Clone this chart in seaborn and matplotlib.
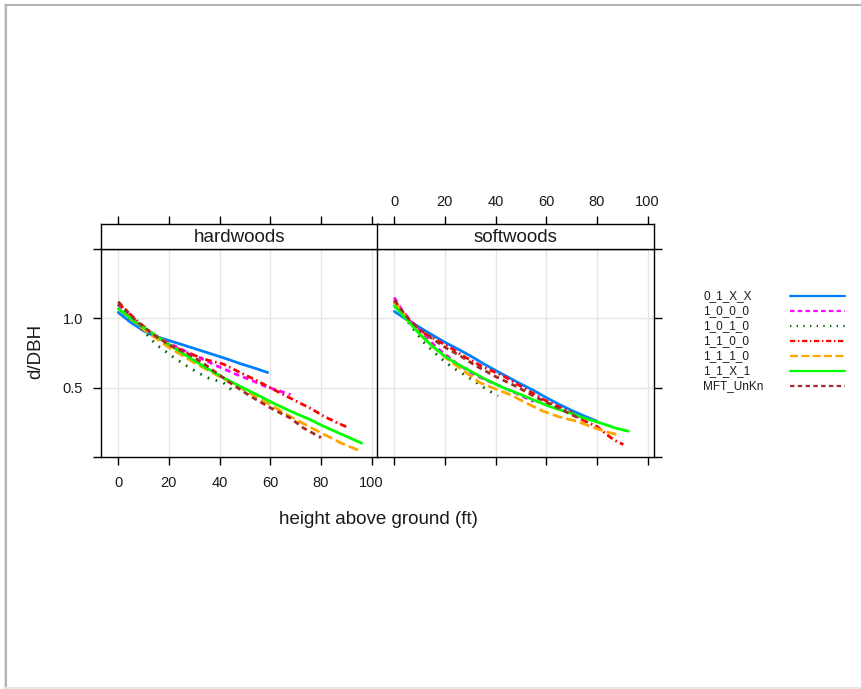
import numpy as np
import pandas as pd
import matplotlib
matplotlib.use("Agg")
import matplotlib.pyplot as plt
import seaborn as sns
from matplotlib.lines import Line2D

# ---------------- data ----------------
groups = ["0_1_X_X", "1_0_0_0", "1_0_1_0", "1_1_0_0", "1_1_1_0", "1_1_X_1", "MFT_UnKn"]
colors = ["#0080ff", "#ff00ff", "#006400", "#ff0000", "#ffa500", "#00ff00", "#a52a2a"]
panels = ["hardwoods", "softwoods"]
x_ticks = [0, 20, 40, 60, 80, 100]
y_ticks = [0.0, 0.5, 1.0, 1.5]
y_tick_labels = ["", "0.5", "1.0", ""]

# hardwoods
hw_x_01XX = [0, 5, 10, 14, 20, 27, 33, 39, 44, 48, 54, 59]
hw_y_01XX = [1.043, 0.97, 0.91, 0.874, 0.84, 0.80, 0.765, 0.73, 0.70, 0.674, 0.64, 0.609]
hw_x_1000 = [0, 5, 10, 14, 20, 28, 34, 39, 46, 53, 58, 63, 68]
hw_y_1000 = [1.10, 1.0, 0.93, 0.886, 0.82, 0.75, 0.70, 0.657, 0.60, 0.55, 0.51, 0.48, 0.45]
hw_x_1010 = [0, 4, 8.6, 15, 22, 28, 35, 41.5, 45]
hw_y_1010 = [1.10, 1.01, 0.935, 0.81, 0.717, 0.645, 0.573, 0.536, 0.48]
hw_x_1100 = [0, 7, 14, 20, 27, 35, 41.5, 48, 55, 62, 70.5, 76, 81, 86, 91]
hw_y_1100 = [1.11, 0.99, 0.88, 0.81, 0.754, 0.70, 0.67, 0.61, 0.548, 0.48, 0.40, 0.35, 0.295, 0.25, 0.21]
hw_x_1110 = [0, 10, 20, 30, 40, 50, 56, 62, 70, 81, 88, 96]
hw_y_1110 = [1.07, 0.92, 0.79, 0.68, 0.58, 0.48, 0.42, 0.355, 0.27, 0.165, 0.10, 0.04]
hw_x_11X1 = [0, 7, 14, 21, 28, 35, 41.5, 48, 54.7, 61, 68, 75, 81, 88, 96]
hw_y_11X1 = [1.07, 0.97, 0.886, 0.80, 0.717, 0.64, 0.572, 0.51, 0.45, 0.39, 0.33, 0.275, 0.222, 0.165, 0.10]
hw_x_MFT = [0, 7, 14, 21, 28, 34, 45, 52, 60, 68, 73, 80]
hw_y_MFT = [1.12, 0.983, 0.88, 0.80, 0.74, 0.67, 0.524, 0.44, 0.355, 0.28, 0.21, 0.14]

# softwoods
sw_x_01XX = [0, 5, 10, 15, 20.7, 25, 30, 35, 40.4, 45, 49.6, 55, 60, 65, 70.7, 75, 80]
sw_y_01XX = [1.05, 0.99, 0.935, 0.88, 0.82, 0.78, 0.73, 0.675, 0.62, 0.575, 0.53, 0.48, 0.428, 0.38, 0.33, 0.295, 0.258]
sw_x_1000 = [0, 3, 7, 12, 18, 25, 32, 38, 42, 48, 55]
sw_y_1000 = [1.15, 1.06, 0.97, 0.87, 0.77, 0.67, 0.59, 0.54, 0.51, 0.46, 0.40]
sw_x_1010 = [0, 4, 7.5, 12, 18, 23, 28.5, 33, 36.4, 41]
sw_y_1010 = [1.12, 1.01, 0.923, 0.82, 0.717, 0.645, 0.585, 0.53, 0.488, 0.44]
sw_x_1100 = [0, 5, 10, 16, 22, 28, 35, 43, 50, 58.8, 64, 69, 75, 80, 83.8, 87, 90.4]
sw_y_1100 = [1.13, 1.0, 0.91, 0.85, 0.79, 0.72, 0.65, 0.585, 0.51, 0.415, 0.37, 0.33, 0.26, 0.22, 0.162, 0.12, 0.09]
sw_x_1110 = [0, 5, 10, 15, 20, 26, 33.8, 40, 45.7, 52, 58.8, 65, 72, 79, 84, 87.8]
sw_y_1110 = [1.12, 1.0, 0.89, 0.80, 0.72, 0.64, 0.536, 0.49, 0.45, 0.39, 0.33, 0.29, 0.258, 0.21, 0.18, 0.162]
sw_x_11X1 = [0, 5, 10, 15, 20.7, 25, 30, 36, 43, 50, 56, 62, 69, 75, 82.5, 87, 92.4]
sw_y_11X1 = [1.09, 0.99, 0.886, 0.80, 0.717, 0.67, 0.62, 0.56, 0.50, 0.45, 0.403, 0.36, 0.319, 0.28, 0.239, 0.21, 0.186]
sw_x_MFT = [0, 5, 10, 16, 21, 26, 32, 40, 48, 56, 63, 70, 74]
sw_y_MFT = [1.13, 1.01, 0.92, 0.84, 0.78, 0.73, 0.66, 0.58, 0.51, 0.43, 0.37, 0.305, 0.27]

hw_series = [(hw_x_01XX, hw_y_01XX), (hw_x_1000, hw_y_1000), (hw_x_1010, hw_y_1010),
             (hw_x_1100, hw_y_1100), (hw_x_1110, hw_y_1110), (hw_x_11X1, hw_y_11X1),
             (hw_x_MFT, hw_y_MFT)]
sw_series = [(sw_x_01XX, sw_y_01XX), (sw_x_1000, sw_y_1000), (sw_x_1010, sw_y_1010),
             (sw_x_1100, sw_y_1100), (sw_x_1110, sw_y_1110), (sw_x_11X1, sw_y_11X1),
             (sw_x_MFT, sw_y_MFT)]

rows = []
for panel, series in zip(panels, [hw_series, sw_series]):
    for g, (xs, ys) in zip(groups, series):
        for xv, yv in zip(xs, ys):
            rows.append({"panel": panel, "group": g, "height": xv, "ratio": yv})
df = pd.DataFrame(rows)

# ---------------- styles ----------------
palette = dict(zip(groups, colors))
dash_list = ["", (2.0, 1.5), (0.6, 2.4), (2.4, 1.2, 0.6, 1.2), (3.6, 1.5), "", (2.0, 1.5)]
dashes = dict(zip(groups, dash_list))

sns.set_theme(style="white")
plt.rcParams["font.family"] = ["Liberation Sans", "DejaVu Sans"]
plt.rcParams["axes.linewidth"] = 1.0

W, H = 861, 689
fig = plt.figure(figsize=(W / 100, H / 100), dpi=100)

def fx(px):
    return px / W

def fy(py):
    return 1 - py / H

xlim = (-6.8, 102.3)
ylim = (0.0, 1.5)
panel_left = [101, 377]
panel_w = 276.5
top_y, bot_y = 249, 457
strip_top = 224
TXT = "#1a1a1a"
LW = 2.0

for i, panel in enumerate(panels):
    ax = fig.add_axes([fx(panel_left[i]), fy(bot_y), panel_w / W, (bot_y - top_y) / H])
    ax.set_facecolor("white")
    for xv in x_ticks:
        ax.axvline(xv, color="#e6e6e6", lw=1, zorder=0)
    for yv in [0.5, 1.0]:
        ax.axhline(yv, color="#e6e6e6", lw=1, zorder=0)
    sns.lineplot(data=df[df["panel"] == panel], x="height", y="ratio",
                 hue="group", style="group", palette=palette, dashes=dashes,
                 hue_order=groups, style_order=groups,
                 estimator=None, sort=False, legend=False, lw=LW, ax=ax, zorder=3)
    ax.set_xlim(*xlim)
    ax.set_ylim(*ylim)
    ax.set_xlabel("")
    ax.set_ylabel("")
    ax.set_xticks(x_ticks)
    ax.set_yticks(y_ticks)
    for s in ax.spines.values():
        s.set_color("black")
        s.set_linewidth(1.0)
    ax.tick_params(direction="out", length=6, width=1.0, color="black",
                   labelsize=10.5, labelcolor=TXT, pad=7.5)
    if i == 0:
        ax.set_xticklabels([str(v) for v in x_ticks])
        ax.set_yticklabels(y_tick_labels)
        ax.tick_params(axis="y", left=True, right=False, labelleft=True, pad=7)
        ax.tick_params(axis="x", bottom=True, labelbottom=True)
    else:
        ax.set_xticklabels([])
        ax.set_yticklabels([])
        ax.tick_params(axis="y", left=False, right=True, labelleft=False, labelright=False)
        ax.tick_params(axis="x", bottom=True, labelbottom=False)

    # strip
    st = fig.add_axes([fx(panel_left[i]), fy(top_y), panel_w / W, (top_y - strip_top) / H])
    st.set_facecolor("white")
    st.set_xlim(*xlim)
    st.set_ylim(0, 1)
    st.set_yticks([])
    st.set_xticks(x_ticks)
    for s in st.spines.values():
        s.set_color("black")
        s.set_linewidth(1.0)
    st.tick_params(axis="x", direction="out", length=6, width=1.0, color="black",
                   bottom=False, labelbottom=False, top=True,
                   labeltop=(i == 1), labelsize=10.5, labelcolor=TXT, pad=5)
    st.text(0.5, 0.45, panel, transform=st.transAxes, ha="center", va="center",
            fontsize=13.5, color=TXT)

fig.text(fx(378), fy(520), "height above ground (ft)", ha="center", va="center",
         fontsize=13.5, color=TXT)
fig.text(fx(36), fy(351), "d/DBH", ha="center", va="center", rotation=90,
         fontsize=13.5, color=TXT)

# legend
lg = fig.add_axes([fx(700), fy(395), 150 / W, 110 / H])
lg.set_xlim(700, 850)
lg.set_ylim(395, 285)
lg.axis("off")
for k, g in enumerate(groups):
    yy = 296 + 15 * k
    lg.text(703, yy, g, ha="left", va="center", fontsize=8.5, color=TXT)
    d = dashes[g]
    ln = Line2D([790, 845], [yy, yy], color=palette[g], lw=1.6)
    if d != "":
        ln.set_dashes(d)
    lg.add_line(ln)

# screenshot frame
fig.add_artist(Line2D([fx(4.5), fx(4.5)], [0, fy(4)], transform=fig.transFigure,
                      color="#e2e2e2", lw=1.5))
fig.add_artist(Line2D([fx(6), fx(6)], [0, fy(5)], transform=fig.transFigure,
                      color="#b4b4b4", lw=1.5))
fig.add_artist(Line2D([fx(6), 1], [fy(5), fy(5)], transform=fig.transFigure,
                      color="#b4b4b4", lw=1.5))
fig.add_artist(Line2D([fx(6), 1], [fy(687.5), fy(687.5)], transform=fig.transFigure,
                      color="#e8e8e8", lw=1.5))

fig.savefig("out.png", dpi=100, facecolor="white")
